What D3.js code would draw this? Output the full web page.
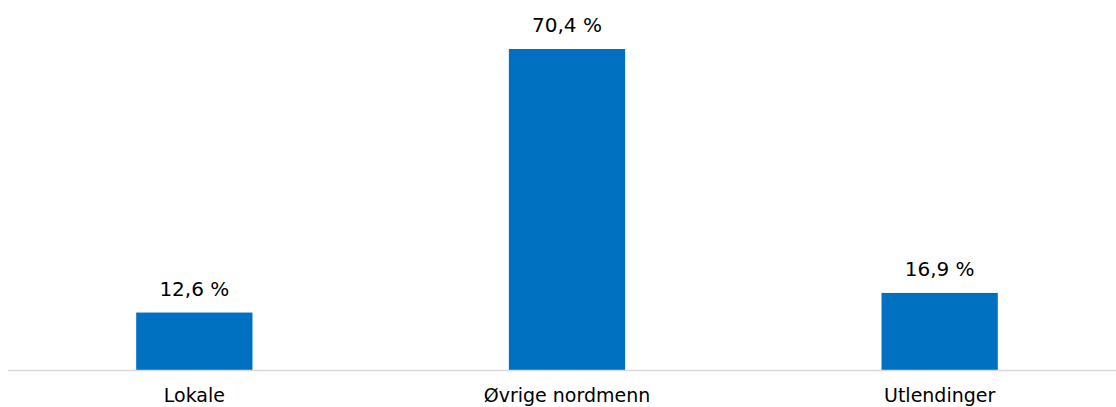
<!DOCTYPE html>
<html>
<head>
<meta charset="utf-8">
<script src="https://cdn.jsdelivr.net/npm/d3@7"></script>
<style>
  body { margin: 0; background: #fff; }
  svg { display: block; font-family: "Century Gothic", "DejaVu Sans", sans-serif; }
</style>
</head>
<body>
<svg width="1116" height="407"></svg>
<script>
const categories = ["Lokale", "Øvrige nordmenn", "Utlendinger"];
const values = [12.6, 70.4, 16.9];

const svg = d3.select("svg");
const width = 1116, height = 407;
const baseY = 370;

const x = d3.scaleBand()
    .domain(categories)
    .range([8, 1126])
    .paddingInner(0.688)
    .paddingOuter(0.344);

const y = d3.scaleLinear()
    .domain([0, 70.4])
    .range([baseY, 49]);

const fmt = v => d3.format(".1f")(v).replace(".", ",") + " %";

svg.append("g")
    .selectAll("rect")
    .data(values)
    .enter()
    .append("rect")
    .attr("x", (d, i) => x(categories[i]))
    .attr("y", d => y(d))
    .attr("width", x.bandwidth())
    .attr("height", d => baseY - y(d))
    .style("fill", "#0070c0");

// axis line
svg.append("line")
    .attr("x1", 8).attr("x2", width)
    .attr("y1", baseY + 0.5).attr("y2", baseY + 0.5)
    .style("stroke", "#d9d9d9")
    .style("stroke-width", 1.5);

svg.append("g")
    .selectAll("text")
    .data(values)
    .enter()
    .append("text")
    .attr("x", (d, i) => x(categories[i]) + x.bandwidth() / 2)
    .attr("y", d => y(d) - 17)
    .attr("text-anchor", "middle")
    .style("font-size", "20px")
    .style("fill", "#000")
    .text(d => fmt(d));

svg.append("g")
    .selectAll("text")
    .data(categories)
    .enter()
    .append("text")
    .attr("x", d => x(d) + x.bandwidth() / 2)
    .attr("y", 402)
    .attr("text-anchor", "middle")
    .style("font-size", "19px")
    .style("fill", "#000")
    .text(d => d);
</script>
</body>
</html>
